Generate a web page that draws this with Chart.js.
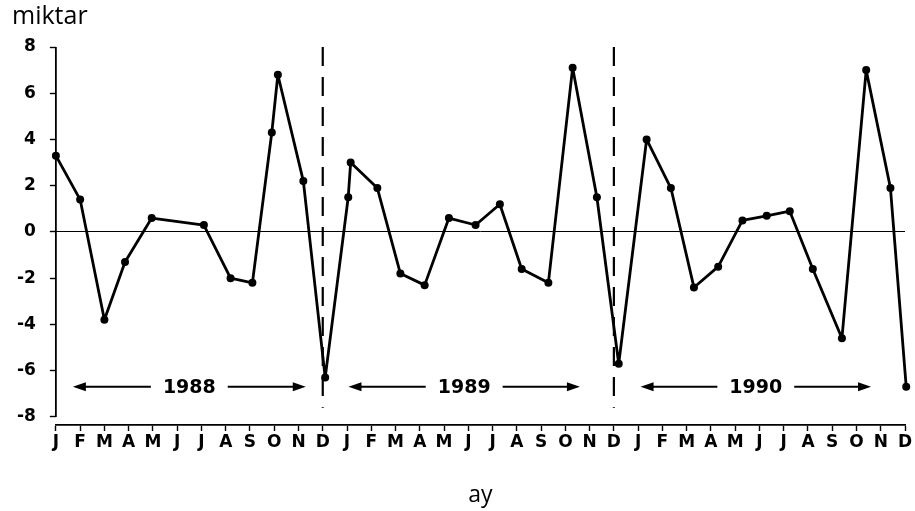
<!DOCTYPE html>
<html><head><meta charset="utf-8">
<script src="https://cdn.jsdelivr.net/npm/chart.js@4.4.0/dist/chart.umd.min.js"></script>
<style>html,body{margin:0;padding:0;background:#fff;}#wrap{width:915px;height:511px;}</style>
</head><body><div id="wrap"><canvas id="c" width="915" height="511"></canvas></div>
<script>
// ---- data ----
const monthLetters = ['J','F','M','A','M','J','J','A','S','O','N','D'];
const years = ['1988','1989','1990'];
const tickLabels = years.flatMap(() => monthLetters);
// month position (0 = Jan 1988) of every plotted point
const monthPos = [0, 1, 2, 2.85, 3.95, 6.1, 7.2, 8.1, 8.9, 9.15, 10.2, 11.1,
                  12.05, 12.15, 13.25, 14.2, 15.2, 16.2, 17.3, 18.3, 19.2, 20.3, 21.3, 22.3, 23.2,
                  24.35, 25.35, 26.3, 27.3, 28.3, 29.3, 30.25, 31.2, 32.4, 33.4, 34.4, 35.05];
const amounts = [3.3, 1.4, -3.8, -1.3, 0.6, 0.3, -2.0, -2.2, 4.3, 6.8, 2.2, -6.3,
                 1.5, 3.0, 1.9, -1.8, -2.3, 0.6, 0.3, 1.2, -1.6, -2.2, 7.1, 1.5, -5.7,
                 4.0, 1.9, -2.4, -1.5, 0.5, 0.7, 0.9, -1.6, -4.6, 7.0, 1.9, -6.7];
const yTickValues = [-8, -6, -4, -2, 0, 2, 4, 6, 8];
const yearBoundaries = [11, 23];          // December ticks separating the years
const yearSpanStart = [0.7, 12.06, 24.1];
const yearSpanEnd = [10.3, 21.6, 33.6];
const yearArrowLevel = -6.7;

// ---- styles ----
const TICK_FONT = 'DejaVu Sans';
const annotate = {
  id: 'annotate',
  beforeDatasetsDraw(chart) {
    const {ctx, scales: {x, y}, chartArea} = chart;
    ctx.save();
    // y axis line from 8 to -8
    ctx.strokeStyle = '#000'; ctx.lineWidth = 1.8;
    ctx.beginPath();
    ctx.moveTo(chartArea.left, y.getPixelForValue(8));
    ctx.lineTo(chartArea.left, y.getPixelForValue(-8));
    ctx.stroke();
    // dashed year separators
    ctx.lineWidth = 2.2; ctx.setLineDash([19, 11]);
    yearBoundaries.forEach(v => {
      const px = x.getPixelForValue(v);
      ctx.beginPath();
      ctx.moveTo(px, y.getPixelForValue(8));
      ctx.lineTo(px, y.getPixelForValue(-7.6));
      ctx.stroke();
    });
    ctx.setLineDash([]);
    // year labels with arrows
    ctx.font = 'bold 19px "DejaVu Sans"';
    ctx.textAlign = 'center'; ctx.textBaseline = 'middle';
    ctx.fillStyle = '#000';
    const py = y.getPixelForValue(yearArrowLevel);
    years.forEach((label, i) => {
      const x0 = x.getPixelForValue(yearSpanStart[i]);
      const x1 = x.getPixelForValue(yearSpanEnd[i]);
      const xm = (x0 + x1) / 2;
      const w = ctx.measureText(label).width;
      ctx.fillText(label, xm, py + 1);
      ctx.lineWidth = 2;
      ctx.beginPath();
      ctx.moveTo(x0 + 6, py); ctx.lineTo(xm - w / 2 - 12, py);
      ctx.moveTo(xm + w / 2 + 12, py); ctx.lineTo(x1 - 6, py);
      ctx.stroke();
      // arrow heads
      ctx.beginPath();
      ctx.moveTo(x0, py); ctx.lineTo(x0 + 13, py - 4.5); ctx.lineTo(x0 + 13, py + 4.5); ctx.closePath();
      ctx.moveTo(x1, py); ctx.lineTo(x1 - 13, py - 4.5); ctx.lineTo(x1 - 13, py + 4.5); ctx.closePath();
      ctx.fill();
    });
    // "miktar" label at top-left
    ctx.font = '25px "Open Sans"';
    ctx.textAlign = 'left'; ctx.textBaseline = 'alphabetic';
    ctx.fillText('miktar', 12, 24);
    ctx.restore();
  }
};

new Chart(document.getElementById('c'), {
  type: 'line',
  data: {
    datasets: [{
      data: monthPos.map((m, i) => ({x: m, y: amounts[i]})),
      borderColor: '#000', backgroundColor: '#000',
      borderWidth: 2.8, borderJoinStyle: 'round', pointRadius: 4, pointBackgroundColor: '#000',
      pointBorderWidth: 0, tension: 0, clip: false
    }]
  },
  options: {
    responsive: false, animation: false, devicePixelRatio: 1,
    layout: {padding: {left: 3, right: 10, top: 47, bottom: 2}},
    plugins: {legend: {display: false}, tooltip: {enabled: false}},
    scales: {
      x: {
        type: 'linear', min: 0, max: 35,
        afterBuildTicks: axis => { axis.ticks = tickLabels.map((_, i) => ({value: i})); },
        ticks: {autoSkip: false, maxRotation: 0, minRotation: 0, padding: 1, color: '#000',
                font: {family: TICK_FONT, weight: 'bold', size: 17},
                callback: v => tickLabels[v]},
        grid: {drawOnChartArea: false, tickLength: 6, tickColor: '#000', tickWidth: 1.4},
        border: {display: true, color: '#000', width: 1.8},
        title: {display: true, text: 'ay', color: '#000',
                font: {family: 'Open Sans', size: 23}, padding: {top: 28, bottom: 0}}
      },
      y: {
        min: -8.35, max: 8,
        afterBuildTicks: axis => { axis.ticks = yTickValues.map(v => ({value: v})); },
        ticks: {padding: 14, color: '#000', font: {family: TICK_FONT, weight: 'bold', size: 17}},
        grid: {color: c => (c.tick && c.tick.value === 0) ? '#000' : 'rgba(0,0,0,0)',
               lineWidth: 1, tickColor: '#000', tickLength: 6, tickWidth: 1.4},
        border: {display: false}
      }
    }
  },
  plugins: [annotate]
});
</script></body></html>
